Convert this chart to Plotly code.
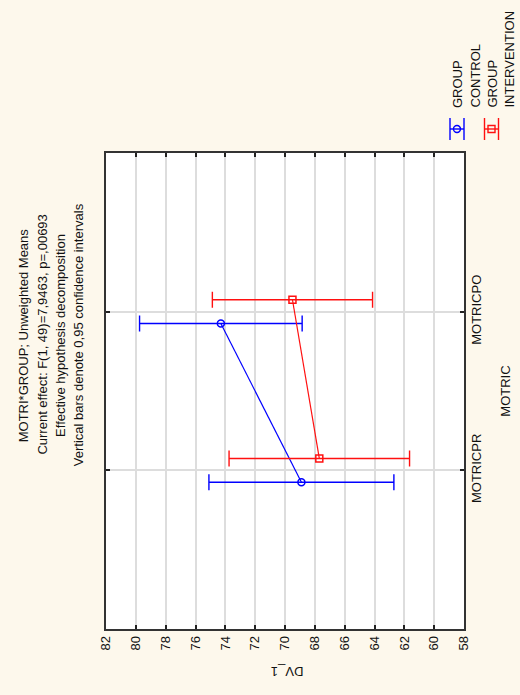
import plotly.graph_objects as go

# Means and 95% confidence half-widths of DV_1 per MOTRIC level
categories = ["MOTRICPR", "MOTRICPO"]
control_mean = [68.9, 74.3]
control_ci = [6.2, 5.45]
intervention_mean = [67.7, 69.5]
intervention_ci = [6.05, 5.37]
dv_ticks = [82, 80, 78, 76, 74, 72, 70, 68, 66, 64, 62, 60, 58]

title_lines = [
    "MOTRI*GROUP; Unweighted Means",
    "Current effect: F(1, 49)=7,9463, p=,00693",
    "Effective hypothesis decomposition",
    "Vertical bars denote 0,95 confidence intervals",
]

BLUE = "#0000ff"
RED = "#ff1010"
BG = "#fdf8ec"
FONT = "Arial, Liberation Sans, sans-serif"
shift = 0.075  # side-by-side offset of the two groups inside a category

W, H = 520, 695
ML, MR, MT, MB = 106, 56, 153, 66
PW, PH = W - ML - MR, H - MT - MB


def fx(p):
    return (p - ML) / PW


def fy(p):
    return (H - MB - p) / PH


pos = list(range(len(categories)))

fig = go.Figure()
fig.add_trace(go.Scatter(
    x=control_mean, y=[p - shift for p in pos], mode="lines+markers",
    line=dict(color=BLUE, width=1.2),
    marker=dict(symbol="circle-open", size=7, color=BLUE, line=dict(width=1.5)),
    error_x=dict(type="data", array=control_ci, color=BLUE, thickness=1.4, width=8),
    name="GROUP CONTROL",
))
fig.add_trace(go.Scatter(
    x=intervention_mean, y=[p + shift for p in pos], mode="lines+markers",
    line=dict(color=RED, width=1.2),
    marker=dict(symbol="square-open", size=7, color=RED, line=dict(width=1.5)),
    error_x=dict(type="data", array=intervention_ci, color=RED, thickness=1.4, width=8),
    name="GROUP INTERVENTION",
))

annotations = []
# stacked title, rotated to read bottom-to-top
for i, line in enumerate(title_lines):
    annotations.append(dict(
        text=line, textangle=-90, xref="paper", yref="paper",
        x=fx(23.3 + 18.3 * i), y=fy(335), xanchor="center", yanchor="middle",
        showarrow=False, font=dict(family=FONT, size=13, color="#111"),
    ))
# axis titles
annotations.append(dict(
    text="DV_1", textangle=180, xref="paper", yref="paper",
    x=fx(286.7), y=fy(671.7), xanchor="center", yanchor="middle",
    showarrow=False, font=dict(family=FONT, size=13, color="#111"),
))
annotations.append(dict(
    text="MOTRIC", textangle=-90, xref="paper", yref="paper",
    x=fx(506), y=fy(391.7), xanchor="center", yanchor="middle",
    showarrow=False, font=dict(family=FONT, size=13, color="#111"),
))

# legend (rotated)
legend_items = [
    (457, ["GROUP", "CONTROL"], BLUE, "circle"),
    (491.5, ["GROUP", "INTERVENTION"], RED, "rect"),
]
shapes = []
for cx, words, col, sym in legend_items:
    for j, w in enumerate(words):
        annotations.append(dict(
            text=w, textangle=-90, xref="paper", yref="paper",
            x=fx(cx + 17.5 * j), y=fy(110), xanchor="center", yanchor="bottom",
            showarrow=False, font=dict(family=FONT, size=13, color="#111"),
        ))
    cy = 129
    line = dict(color=col, width=1.4)
    shapes.append(dict(type="line", xref="paper", yref="paper",
                       x0=fx(cx - 7), x1=fx(cx + 7), y0=fy(cy), y1=fy(cy), line=line))
    for dx in (-7, 7):
        shapes.append(dict(type="line", xref="paper", yref="paper",
                           x0=fx(cx + dx), x1=fx(cx + dx), y0=fy(cy - 11), y1=fy(cy + 11), line=line))
    shapes.append(dict(type=sym, xref="paper", yref="paper",
                       x0=fx(cx - 3.5), x1=fx(cx + 3.5), y0=fy(cy - 3.5), y1=fy(cy + 3.5),
                       line=dict(color=col, width=1.4)))

fig.update_layout(
    width=W, height=H,
    margin=dict(l=ML, r=MR, t=MT, b=MB, pad=0),
    paper_bgcolor=BG, plot_bgcolor="white",
    showlegend=False,
    font=dict(family=FONT, size=13, color="#111"),
    annotations=annotations, shapes=shapes,
)
fig.update_xaxes(
    range=[82, 58], tickvals=dv_ticks, tickangle=-90,
    ticks="inside", ticklen=4, tickcolor="#222", tickwidth=1.5,
    showline=True, mirror="ticks", linecolor="#333", linewidth=1.5,
    showgrid=True, gridcolor="#dddddd", gridwidth=1.5, zeroline=False,
)
fig.update_yaxes(
    range=[-1, 2], tickvals=pos, ticktext=categories, side="right", tickangle=-90,
    ticks="inside", ticklen=4, tickcolor="#222", tickwidth=1.5,
    showline=True, mirror="ticks", linecolor="#333", linewidth=1.5,
    showgrid=True, gridcolor="#dddddd", gridwidth=1.5, zeroline=False,
)

fig.write_html("out.html")
